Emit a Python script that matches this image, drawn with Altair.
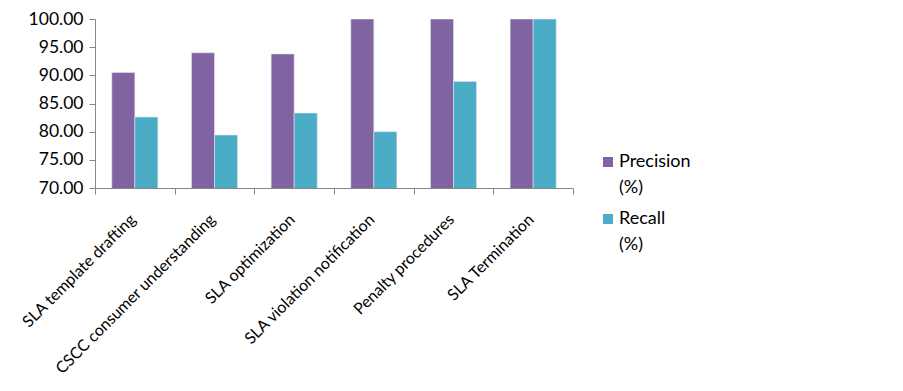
import altair as alt
import pandas as pd

categories = ["SLA template drafting", "CSCC consumer understanding", "SLA optimization",
              "SLA violation notification", "Penalty procedures", "SLA Termination"]
precision = [90.5, 94.0, 93.8, 100.0, 100.0, 100.0]
recall = [82.6, 79.4, 83.3, 80.0, 88.9, 100.0]
series = ["Precision (%)", "Recall (%)"]
colors = ["#8064A2", "#4BACC6"]

rows = []
for c, p, r in zip(categories, precision, recall):
    rows.append({"cat": c, "series": series[0], "value": p})
    rows.append({"cat": c, "series": series[1], "value": r})
df = pd.DataFrame(rows)

FONT = "Lato"
W, H = 478, 169
PL, PT = 87, 11

bars = alt.Chart(df).mark_bar(stroke="#E6E0EE", strokeWidth=0.6, clip=True).encode(
    x=alt.X("cat:N", sort=categories, title=None,
            scale=alt.Scale(paddingInner=0, paddingOuter=0),
            axis=alt.Axis(labelAngle=-45, labelFontSize=16, labelFont=FONT, labelColor="#000000",
                          labelAlign="right", labelBaseline="top", labelOffset=-8,
                          domainColor="#868686", tickColor="#868686", tickSize=6,
                          tickBand="extent", labelPadding=17, labelLimit=400)),
    xOffset=alt.XOffset("series:N", sort=series,
                        scale=alt.Scale(paddingInner=0, paddingOuter=0.73)),
    y=alt.Y("value:Q", title=None,
            scale=alt.Scale(domain=[70, 100], nice=False, zero=False),
            axis=alt.Axis(values=[70, 75, 80, 85, 90, 95, 100], format=".2f", grid=False,
                          labelFontSize=17.5, labelFont=FONT, labelColor="#000000",
                          domainColor="#868686", tickColor="#868686", tickSize=6, labelPadding=6)),
    color=alt.Color("series:N", sort=series,
                    scale=alt.Scale(domain=series, range=colors), legend=None),
)

layers = [bars]
leg_df = pd.DataFrame({"series": series})
for i, s in enumerate(series):
    one = alt.Chart(leg_df).transform_filter(alt.datum.series == s)
    layers.append(one.mark_square(size=100, opacity=1).encode(
        x=alt.value(513), y=alt.value(143 + 57 * i),
        color=alt.Color("series:N", scale=alt.Scale(domain=series, range=colors), legend=None)))
    layers.append(one.transform_calculate(lines="split(datum.series, ' ')").mark_text(
        align="left", baseline="top", font=FONT, fontSize=18, lineHeight=26, color="#000000"
    ).encode(x=alt.value(524), y=alt.value(134 + 57 * i), text="lines:N"))

chart = alt.layer(*layers).properties(
    width=W, height=H,
    autosize=alt.AutoSizeParams(type="none"),
    padding={"left": PL, "top": PT, "right": 887 - PL - W, "bottom": 375 - PT - H},
).configure_view(stroke=None)

chart.save("out.html", embed_options={"renderer": "svg", "actions": False})
